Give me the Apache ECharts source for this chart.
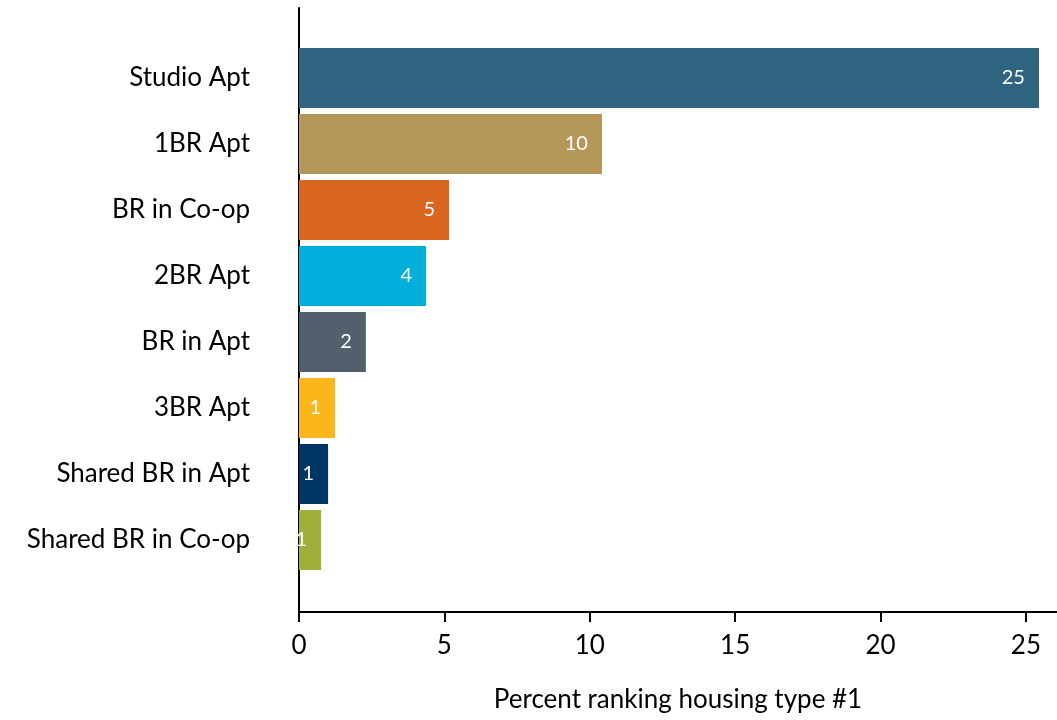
<!DOCTYPE html>
<html>
<head>
<meta charset="utf-8">
<script src="https://cdn.jsdelivr.net/npm/echarts@6/dist/echarts.min.js"></script>
<style>html,body{margin:0;padding:0;background:#fff;}#c{width:1057px;height:720px;}</style>
</head>
<body>
<div id="c"></div>
<script>
const categories = ['Studio Apt', '1BR Apt', 'BR in Co-op', '2BR Apt', 'BR in Apt', '3BR Apt', 'Shared BR in Apt', 'Shared BR in Co-op'];
const values = [25.45, 10.42, 5.16, 4.37, 2.30, 1.24, 1.00, 0.76];
const xTicks = [0, 5, 10, 15, 20, 25];
const xTitle = 'Percent ranking housing type #1';

const palette = ['#2e6480', '#b5975a', '#d96720', '#00b0da', '#52606d', '#fbb619', '#003663', '#a1ae3a'];
const FONT = 'Lato, "Open Sans", sans-serif';
const XMAX = 26.07;

const chart = echarts.init(document.getElementById('c'), null, {renderer: 'canvas'});
chart.setOption({
  animation: false,
  backgroundColor: '#fff',
  grid: [
    {left: 299, right: 0, top: 45, bottom: 147, containLabel: false},
    {left: 299, right: 0, top: 8, bottom: 108, containLabel: false}
  ],
  xAxis: [
    {gridIndex: 0, type: 'value', min: 0, max: XMAX, show: false},
    {gridIndex: 1, type: 'value', min: 0, max: XMAX,
      splitLine: {show: false},
      axisLine: {show: true, lineStyle: {color: '#000', width: 2}},
      axisTick: {show: true, length: 10, lineStyle: {color: '#000', width: 2}, customValues: xTicks},
      axisLabel: {show: true, color: '#000', fontSize: 26, fontFamily: FONT, margin: 21, customValues: xTicks},
      name: xTitle, nameLocation: 'middle', nameGap: 75,
      nameTextStyle: {color: '#000', fontSize: 26, fontFamily: FONT}
    }
  ],
  yAxis: [
    {gridIndex: 0, type: 'category', data: categories, inverse: true,
      axisLine: {show: false}, axisTick: {show: false}, splitLine: {show: false},
      axisLabel: {color: '#000', fontSize: 26, fontFamily: FONT, margin: 49}
    },
    {gridIndex: 1, type: 'value', min: 0, max: 1,
      axisLine: {show: true, onZero: false, lineStyle: {color: '#000', width: 2}},
      axisTick: {show: false}, axisLabel: {show: false}, splitLine: {show: false}
    }
  ],
  series: [{
    type: 'bar',
    xAxisIndex: 0, yAxisIndex: 0,
    barWidth: 60,
    data: values.map((v, i) => ({value: v, itemStyle: {color: palette[i]}})),
    label: {
      show: true, position: 'insideRight', distance: 14,
      color: '#fff', fontSize: 20, fontFamily: FONT,
      formatter: p => String(Math.round(p.value))
    }
  }]
});
</script>
</body>
</html>
